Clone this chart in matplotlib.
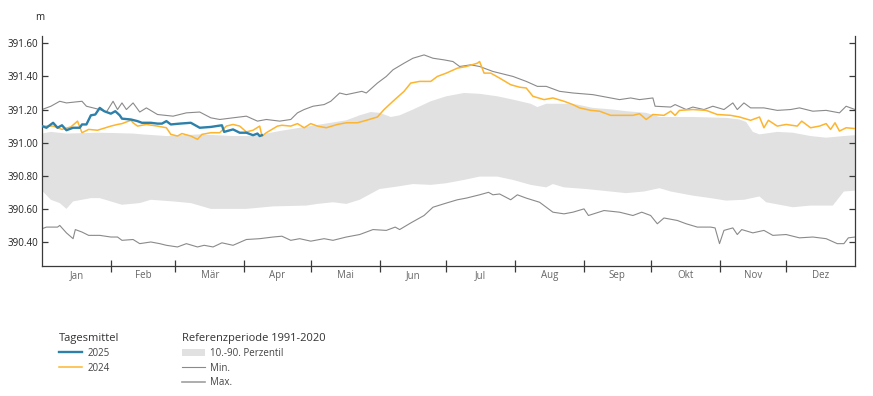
import numpy as np
import matplotlib
matplotlib.use('Agg')
import matplotlib.pyplot as plt
from matplotlib.lines import Line2D
from matplotlib.patches import Patch

plt.rcParams['font.family'] = ['Open Sans', 'DejaVu Sans']

# Monatsgrenzen als Tag im Jahr (Schaltjahr)
month_bounds = [0, 31, 60, 91, 121, 152, 182, 213, 244, 274, 305, 335, 366]
month_labels = ['Jan', 'Feb', 'Mär', 'Apr', 'Mai', 'Jun', 'Jul', 'Aug', 'Sep', 'Okt', 'Nov', 'Dez']
y_ticks = [390.40, 390.60, 390.80, 391.00, 391.20, 391.40, 391.60]

# Tagesmittel 2025
days_2025 = [0, 2, 5, 7, 9, 11, 14, 17, 18, 20, 22, 24, 26, 28, 31, 33, 35, 36, 40, 43,
             45, 49, 52, 54, 56, 58, 62, 67, 71, 76, 81, 82, 86, 89, 92, 95, 97, 98, 99]
level_2025 = [391.10, 391.09, 391.12, 391.09, 391.105, 391.075, 391.09, 391.09, 391.11, 391.11,
              391.165, 391.17, 391.21, 391.19, 391.175, 391.19, 391.165, 391.145, 391.14, 391.13,
              391.12, 391.12, 391.115, 391.115, 391.13, 391.11, 391.115, 391.12, 391.09, 391.095,
              391.105, 391.065, 391.08, 391.06, 391.06, 391.045, 391.055, 391.04, 391.045]

# Tagesmittel 2024
days_2024 = [0, 5, 9, 13, 16, 18, 21, 25, 31, 34, 36, 40, 41, 43, 47, 52, 56, 58, 61, 63,
             67, 70, 72, 76, 80, 83, 86, 89, 92, 95, 98, 99, 101, 106, 108, 112, 115, 118, 121, 124,
             128, 133, 137, 142, 146, 151, 154, 158, 163, 166, 170, 175, 178, 182, 187, 191, 196, 197, 199, 202,
             206, 211, 215, 218, 221, 226, 230, 235, 239, 242, 247, 251, 256, 260, 266, 269, 272, 275, 280, 283,
             285, 287, 293, 299, 304, 310, 314, 319, 323, 325, 327, 331, 335, 340, 342, 346, 350, 353, 355, 357,
             359, 362, 366]
level_2024 = [391.10, 391.10, 391.08, 391.095, 391.13, 391.06, 391.08, 391.075, 391.10, 391.11,
              391.115, 391.135, 391.12, 391.10, 391.11, 391.10, 391.09, 391.05, 391.04, 391.055,
              391.04, 391.02, 391.05, 391.06, 391.06, 391.10, 391.11, 391.10, 391.065, 391.075,
              391.10, 391.04, 391.06, 391.10, 391.105, 391.10, 391.115, 391.09, 391.115, 391.10,
              391.09, 391.11, 391.12, 391.12, 391.135, 391.155, 391.20, 391.25, 391.31, 391.36,
              391.37, 391.37, 391.40, 391.42, 391.45, 391.46, 391.48, 391.49, 391.42, 391.42,
              391.39, 391.35, 391.335, 391.33, 391.28, 391.26, 391.27, 391.25, 391.23, 391.21,
              391.195, 391.19, 391.165, 391.165, 391.165, 391.175, 391.14, 391.17, 391.165, 391.19,
              391.165, 391.195, 391.20, 391.195, 391.17, 391.165, 391.155, 391.135, 391.155, 391.09,
              391.135, 391.10, 391.11, 391.10, 391.13, 391.09, 391.10, 391.115, 391.08, 391.12,
              391.07, 391.09, 391.085]

# Referenzperiode 1991-2020: Maximum
days_max = [0, 4, 8, 11, 18, 20, 26, 29, 32, 34, 36, 38, 41, 44, 47, 52, 59, 65, 71, 76,
            80, 86, 92, 97, 101, 107, 112, 115, 118, 122, 127, 130, 134, 137, 144, 146, 151, 155, 158, 163,
            167, 172, 176, 181, 185, 188, 193, 197, 203, 212, 218, 223, 227, 233, 239, 248, 256, 260, 265, 269,
            275, 276, 283, 285, 290, 293, 298, 302, 307, 311, 313, 316, 319, 325, 331, 337, 341, 347, 353, 359,
            362, 366]
level_max = [391.20, 391.22, 391.25, 391.24, 391.25, 391.22, 391.20, 391.185, 391.25, 391.20,
             391.24, 391.20, 391.24, 391.185, 391.21, 391.17, 391.16, 391.18, 391.185, 391.15,
             391.14, 391.15, 391.16, 391.13, 391.14, 391.13, 391.14, 391.18, 391.20, 391.22,
             391.23, 391.25, 391.30, 391.29, 391.31, 391.30, 391.36, 391.40, 391.44, 391.48,
             391.51, 391.53, 391.51, 391.50, 391.49, 391.46, 391.47, 391.46, 391.43, 391.40,
             391.37, 391.34, 391.34, 391.31, 391.30, 391.29, 391.27, 391.26, 391.27, 391.26,
             391.27, 391.22, 391.215, 391.23, 391.20, 391.215, 391.20, 391.22, 391.20, 391.24,
             391.20, 391.24, 391.21, 391.21, 391.195, 391.20, 391.21, 391.19, 391.195, 391.18,
             391.22, 391.20]

# Referenzperiode 1991-2020: Minimum
days_min = [0, 2, 7, 8, 11, 14, 15, 18, 21, 26, 31, 34, 36, 41, 44, 49, 53, 56, 61, 65,
            70, 73, 77, 81, 86, 92, 98, 104, 108, 112, 116, 121, 127, 131, 137, 143, 149, 155, 159, 161,
            166, 172, 176, 182, 187, 191, 197, 201, 203, 206, 211, 214, 218, 224, 227, 230, 235, 239, 244, 246,
            253, 260, 266, 270, 274, 277, 280, 286, 290, 295, 301, 303, 305, 307, 311, 313, 315, 320, 325, 329,
            335, 341, 347, 353, 358, 361, 363, 366]
level_min = [390.48, 390.49, 390.49, 390.50, 390.455, 390.42, 390.475, 390.46, 390.44, 390.44,
             390.43, 390.43, 390.41, 390.415, 390.39, 390.40, 390.39, 390.38, 390.37, 390.39,
             390.37, 390.38, 390.37, 390.395, 390.38, 390.415, 390.42, 390.43, 390.435, 390.41,
             390.42, 390.405, 390.42, 390.41, 390.43, 390.445, 390.475, 390.47, 390.49, 390.475,
             390.515, 390.56, 390.61, 390.635, 390.655, 390.665, 390.685, 390.70, 390.685, 390.69,
             390.655, 390.685, 390.665, 390.64, 390.61, 390.58, 390.57, 390.58, 390.60, 390.56,
             390.59, 390.58, 390.56, 390.58, 390.56, 390.51, 390.545, 390.53, 390.51, 390.49,
             390.49, 390.485, 390.39, 390.47, 390.485, 390.445, 390.475, 390.455, 390.47, 390.44,
             390.445, 390.425, 390.43, 390.42, 390.39, 390.39, 390.425, 390.43]

# Referenzperiode 1991-2020: 90. Perzentil
days_p90 = [0, 4, 11, 26, 41, 45, 56, 71, 86, 95, 101, 107, 116, 130, 137, 143, 148, 152, 157, 161,
            167, 175, 182, 190, 197, 205, 212, 220, 223, 227, 235, 241, 248, 257, 263, 272, 278, 293, 308, 314,
            317, 320, 323, 331, 338, 346, 353, 361, 366]
level_p90 = [391.055, 391.065, 391.055, 391.06, 391.055, 391.05, 391.04, 391.05, 391.04, 391.04,
             391.055, 391.07, 391.09, 391.12, 391.135, 391.165, 391.185, 391.18, 391.155, 391.165,
             391.20, 391.25, 391.28, 391.30, 391.295, 391.28, 391.26, 391.235, 391.215, 391.235,
             391.235, 391.23, 391.21, 391.20, 391.19, 391.18, 391.155, 391.155, 391.15, 391.14,
             391.125, 391.065, 391.05, 391.065, 391.06, 391.04, 391.03, 391.04, 391.045]

# Referenzperiode 1991-2020: 10. Perzentil
days_p10 = [0, 4, 8, 11, 14, 22, 26, 36, 44, 49, 59, 67, 76, 81, 92, 104, 119, 124, 131, 137,
            143, 152, 160, 167, 175, 182, 190, 197, 205, 212, 220, 227, 230, 235, 245, 263, 271, 278, 283, 293,
            301, 308, 316, 323, 326, 338, 346, 356, 361, 366]
level_p10 = [390.71, 390.655, 390.635, 390.60, 390.645, 390.665, 390.665, 390.625, 390.635, 390.655,
             390.645, 390.635, 390.60, 390.60, 390.60, 390.615, 390.62, 390.63, 390.64, 390.63,
             390.655, 390.72, 390.735, 390.75, 390.745, 390.755, 390.775, 390.795, 390.795, 390.775,
             390.745, 390.73, 390.75, 390.73, 390.72, 390.695, 390.705, 390.725, 390.705, 390.68,
             390.665, 390.65, 390.655, 390.675, 390.64, 390.61, 390.62, 390.62, 390.705, 390.71]

c_2025 = '#2c80aa'
c_2024 = '#fdb52f'
c_band = '#e1e1e1'
c_ref = '#8a8a8a'
c_axis = '#3a3a3a'

fig = plt.figure(figsize=(8.73, 3.96), dpi=100)
ax = fig.add_axes([0.0481, 0.3283, 0.9313, 0.5807])

# Band 10.-90. Perzentil
band_x = np.concatenate([days_p90, days_p10[::-1]])
band_y = np.concatenate([level_p90, level_p10[::-1]])
ax.fill(band_x, band_y, color=c_band, lw=0, zorder=1)

ax.plot(days_min, level_min, color=c_ref, lw=0.8, zorder=2)
ax.plot(days_max, level_max, color=c_ref, lw=0.8, zorder=2)
ax.plot(days_2024, level_2024, color=c_2024, lw=1.1, zorder=3)
ax.plot(days_2025, level_2025, color=c_2025, lw=1.7, zorder=4)

ax.set_xlim(month_bounds[0], month_bounds[-1])
ax.set_ylim(390.255, 391.644)

# y-Achse
ax.set_yticks(y_ticks)
ax.set_yticklabels(['%.2f' % v for v in y_ticks])
ax.tick_params(axis='y', direction='in', length=4, width=0.9, color=c_axis,
               labelsize=7, labelcolor='#222222', right=True, pad=3)

# x-Achse: Striche an Monatsgrenzen, Namen in der Monatsmitte
ax.set_xticks(month_bounds[1:-1])
ax.set_xticklabels([])
centers = [(a + b) / 2 for a, b in zip(month_bounds[:-1], month_bounds[1:])]
ax.set_xticks(centers, minor=True)
ax.set_xticklabels(month_labels, minor=True)
ax.tick_params(axis='x', which='major', direction='inout', length=8.6, width=0.9, color=c_axis)
ax.tick_params(axis='x', which='minor', length=0, labelsize=7, labelcolor='#666666', pad=3)

for side in ['left', 'right', 'bottom']:
    ax.spines[side].set_color(c_axis)
    ax.spines[side].set_linewidth(0.9)
ax.spines['top'].set_visible(False)

fig.text(0.0458, 0.957, 'm', fontsize=7, color='#222222', ha='center', va='center')

# Legenden
h1 = [Line2D([], [], color=c_2025, lw=1.7), Line2D([], [], color=c_2024, lw=1.1)]
leg1 = fig.legend(h1, ['2025', '2024'], title='Tagesmittel', loc='upper left',
                  bbox_to_anchor=(0.062, 0.172), frameon=False, fontsize=7,
                  title_fontsize=8, handlelength=2.4, handletextpad=0.5,
                  labelspacing=0.4, borderpad=0, alignment='left')
h2 = [Patch(facecolor=c_band, edgecolor='none'),
      Line2D([], [], color=c_ref, lw=0.8), Line2D([], [], color='#a0a0a0', lw=1.2)]
leg2 = fig.legend(h2, ['10.-90. Perzentil', 'Min.', 'Max.'], title='Referenzperiode 1991-2020',
                  loc='upper left', bbox_to_anchor=(0.203, 0.172), frameon=False, fontsize=7,
                  title_fontsize=8, handlelength=2.4, handletextpad=0.5,
                  labelspacing=0.4, borderpad=0, alignment='left')
for leg in (leg1, leg2):
    leg.get_title().set_color('#333333')
    for t in leg.get_texts():
        t.set_color('#444444')

fig.savefig('out.png', dpi=100)
